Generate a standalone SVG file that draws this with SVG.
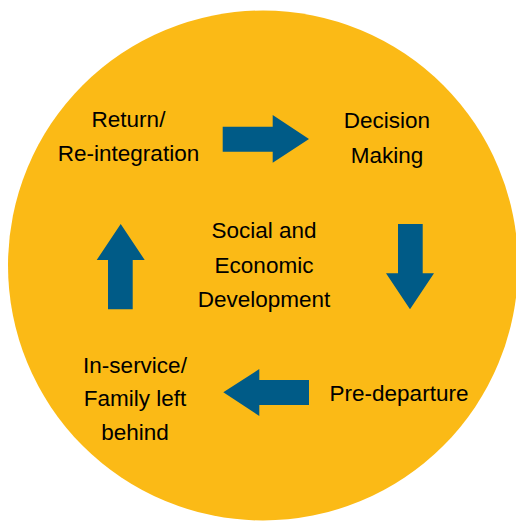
<svg xmlns="http://www.w3.org/2000/svg" width="516" height="521" viewBox="0 0 516 521">
<style>
.lbl{font-family:"Liberation Sans",Arial,sans-serif;font-size:22.5px;fill:#000;text-anchor:middle}
.arr{fill:#005B87}
</style>
<rect width="516" height="521" fill="#fff"/>
<circle id="cycle" cx="263" cy="265.5" r="255" fill="#FBBA16"/>
<g id="connectors">
<polygon class="arr" points="222.7,126.7 272.7,126.7 272.7,115 309,139 272.7,162.7 272.7,151.7 222.7,151.7"/>
<polygon class="arr" points="398,224 422.7,224 422.7,273.3 434,273.3 410,309.3 386,273.3 398,273.3"/>
<polygon class="arr" points="309,380 259.3,380 259.3,369 223.3,392.3 259.3,416 259.3,405 309,405"/>
<polygon class="arr" points="108,309.3 108,260 96.7,260 120.7,224 144.7,260 132.7,260 132.7,309.3"/>
</g>
<g id="return"><text class="lbl" x="128.5" y="126.7">Return/</text><text class="lbl" x="128.5" y="161">Re-integration</text></g>
<g id="decision"><text class="lbl" x="387" y="128.3">Decision</text><text class="lbl" x="387" y="163">Making</text></g>
<g id="center"><text class="lbl" x="264" y="238.3">Social and</text><text class="lbl" x="264" y="273">Economic</text><text class="lbl" x="264" y="306.7">Development</text></g>
<g id="predeparture"><text class="lbl" x="399" y="400.7">Pre-departure</text></g>
<g id="inservice"><text class="lbl" x="135" y="373.3">In-service/</text><text class="lbl" x="135" y="405.7">Family left</text><text class="lbl" x="135" y="440">behind</text></g>
</svg>
